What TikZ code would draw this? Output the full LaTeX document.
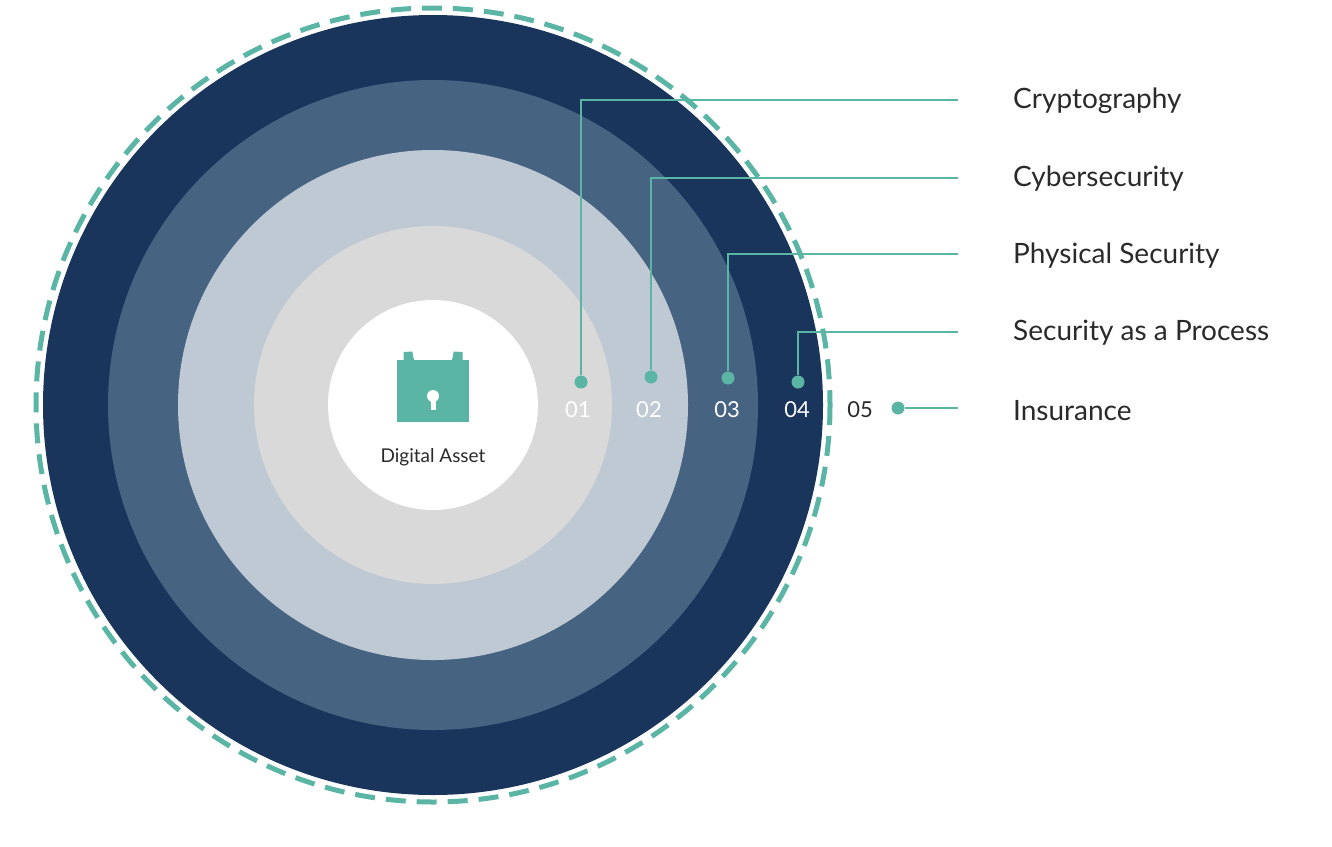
\documentclass[tikz,border=0pt]{standalone}
\usepackage{fontspec}
\setmainfont{Lato}
\definecolor{c1}{HTML}{1A355B}
\definecolor{c2}{HTML}{466382}
\definecolor{c3}{HTML}{BFC9D4}
\definecolor{c4}{HTML}{D9D9D9}
\definecolor{tl}{HTML}{5BB5A5}
\definecolor{tx}{HTML}{2A2A2A}
\tikzset{lead/.style={tl,line width=2.5pt},dot/.style={circle,fill=tl,inner sep=0pt,minimum size=13pt},
lab/.style={anchor=west,font=\fontsize{28}{30}\selectfont,text=tx,inner sep=0pt},
num/.style={font=\fontsize{22}{24}\selectfont,inner sep=0pt}}
\begin{document}
\begin{tikzpicture}[x=1pt,y=-1pt]
\useasboundingbox (0,0) rectangle (1332,846);
\coordinate (c) at (433,405);
\fill[c1] (c) circle (390);
\fill[c2] (c) circle (325);
\fill[c3] (c) circle (255);
\fill[c4] (c) circle (179);
\fill[white] (c) circle (105);
\draw[tl,line width=5pt,dash pattern=on 20pt off 11pt] (c) circle (397);
% lock
\draw[tl,line width=9pt] (408,362) -- (408,352) arc[start angle=180,end angle=0,radius=25] -- (458,362);
\fill[tl] (397,360) rectangle (469,422);
\fill[white] (433,396) circle (6);
\fill[white] (430.5,398) rectangle (435.5,410);
\node[font=\fontsize{19}{21}\selectfont,text=tx] (da) at (433,457) {Digital Asset};
% leaders
\node[dot] (d1) at (581,382) {};
\node[dot] (d2) at (651,377) {};
\node[dot] (d3) at (728,378) {};
\node[dot] (d4) at (798,382) {};
\node[dot] (d5) at (898,408) {};
\coordinate (e1) at (958,100);
\coordinate (e2) at (958,178);
\coordinate (e3) at (958,254);
\coordinate (e4) at (958,332);
\coordinate (e5) at (958,408);
\draw[lead] (d1) |- (e1);
\draw[lead] (d2) |- (e2);
\draw[lead] (d3) |- (e3);
\draw[lead] (d4) |- (e4);
\draw[lead] (d5) -- (e5);
\node[lab] (l1) at (1013,101) {Cryptography};
\node[lab] (l2) at (1013,179) {Cybersecurity};
\node[lab] (l3) at (1013,256) {Physical Security};
\node[lab] (l4) at (1013,333) {Security as a Process};
\node[lab] (l5) at (1013,411) {Insurance};
\node[num,text=white] (n1) at (578,410) {01};
\node[num,text=white] (n2) at (649,410) {02};
\node[num,text=white] (n3) at (727,410) {03};
\node[num,text=white] (n4) at (797,410) {04};
\node[num,text=tx] (n5) at (860,410) {05};
\end{tikzpicture}
\end{document}
